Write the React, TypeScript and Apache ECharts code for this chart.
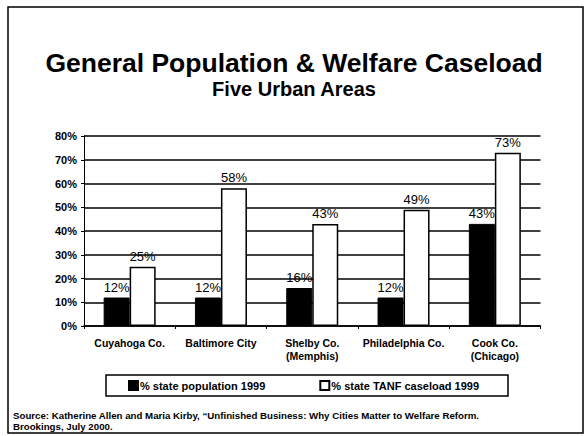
import React, { useEffect, useRef } from "react";
import * as echarts from "echarts";

const categories = [
  "Cuyahoga Co.",
  "Baltimore City",
  "Shelby Co.\n(Memphis)",
  "Philadelphia Co.",
  "Cook Co.\n(Chicago)",
];
const populationShare = [12, 12, 16, 12, 43];
const tanfShare = [25, 58, 43, 49, 73];
const seriesNames = ["% state population 1999", "% state TANF caseload 1999"];
const titleText = "General Population & Welfare Caseload";
const subtitleText = "Five Urban Areas";
const sourceLines = [
  "Source: Katherine Allen and Maria Kirby, \u201cUnfinished Business: Why Cities Matter to Welfare Reform.",
  "Brookings, July 2000.",
];

const SANS = "'Liberation Sans', Arial, Helvetica, sans-serif";
const NARROW = "'Liberation Sans Narrow', 'Arial Narrow', 'Liberation Sans', sans-serif";

export default function App() {
  const ref = useRef<HTMLDivElement>(null);
  useEffect(() => {
    if (!ref.current) return;
    const chart = echarts.init(ref.current, undefined, { renderer: "svg" });
    const labelStyle = {
      show: true,
      position: "top" as const,
      distance: 4,
      formatter: "{c}%",
      color: "#000",
      fontFamily: NARROW,
      fontSize: 13,
    };
    chart.setOption({
      animation: false,
      backgroundColor: "#fff",
      title: [
        {
          text: titleText,
          left: "center",
          top: 44,
          textStyle: { fontFamily: SANS, fontSize: 26.5, fontWeight: "bold", color: "#000" },
        },
        {
          text: subtitleText,
          left: "center",
          top: 74,
          textStyle: { fontFamily: SANS, fontSize: 20, fontWeight: "bold", color: "#000" },
        },
      ],
      legend: {
        data: seriesNames,
        left: 128,
        top: 380,
        padding: 0,
        icon: "rect",
        itemWidth: 9,
        itemHeight: 9,
        itemGap: 54,
        textStyle: { fontFamily: SANS, fontSize: 11, fontWeight: "bold", color: "#000", padding: [0, 0, 0, -3] },
      },
      grid: { left: 84, right: 47.5, top: 136, bottom: 110 },
      xAxis: {
        type: "category",
        data: categories,
        axisLine: { show: true, lineStyle: { color: "#000", width: 1.5 } },
        axisTick: { show: true, length: 3, lineStyle: { color: "#000" } },
        axisLabel: {
          color: "#000",
          fontFamily: SANS,
          fontSize: 10.5,
          fontWeight: "bold",
          margin: 10,
          lineHeight: 13,
          interval: 0,
        },
      },
      yAxis: {
        type: "value",
        min: 0,
        max: 80,
        interval: 10,
        axisLine: { show: true, lineStyle: { color: "#000", width: 1 } },
        axisTick: { show: true, length: 3, lineStyle: { color: "#000" } },
        axisLabel: {
          formatter: "{value}%",
          color: "#000",
          fontFamily: SANS,
          fontSize: 11,
          fontWeight: "bold",
          margin: 7,
        },
        splitLine: { show: true, lineStyle: { color: "#000", width: 1.6 } },
      },
      series: [
        {
          name: seriesNames[0],
          type: "bar",
          data: populationShare,
          barWidth: 26,
          barGap: "0%",
          itemStyle: { color: "#000", borderColor: "#000", borderWidth: 1 },
          label: labelStyle,
        },
        {
          name: seriesNames[1],
          type: "bar",
          data: tanfShare,
          barWidth: 26,
          barGap: "0%",
          itemStyle: { color: "#fff", borderColor: "#000", borderWidth: 1.5 },
          label: labelStyle,
        },
      ],
      graphic: [
        {
          type: "rect",
          shape: { x: 8, y: 7, width: 575, height: 426 },
          style: { fill: "none", stroke: "#000", lineWidth: 1.5 },
          silent: true,
          z: -1,
        },
        {
          type: "rect",
          shape: { x: 106, y: 375, width: 402, height: 21 },
          style: { fill: "none", stroke: "#000", lineWidth: 1.5 },
          silent: true,
        },
        {
          type: "text",
          x: 13,
          y: 415,
          style: {
            text: sourceLines[0],
            font: `bold 9.7px ${SANS}`,
            fill: "#000",
            textVerticalAlign: "middle",
          },
        },
        {
          type: "text",
          x: 13,
          y: 426,
          style: {
            text: sourceLines[1],
            font: `bold 9.7px ${SANS}`,
            fill: "#000",
            textVerticalAlign: "middle",
          },
        },
      ],
    });
    return () => chart.dispose();
  }, []);
  return (
    <div
      ref={ref}
      style={{ position: "fixed", left: 0, top: 0, width: 588, height: 436 }}
    />
  );
}
